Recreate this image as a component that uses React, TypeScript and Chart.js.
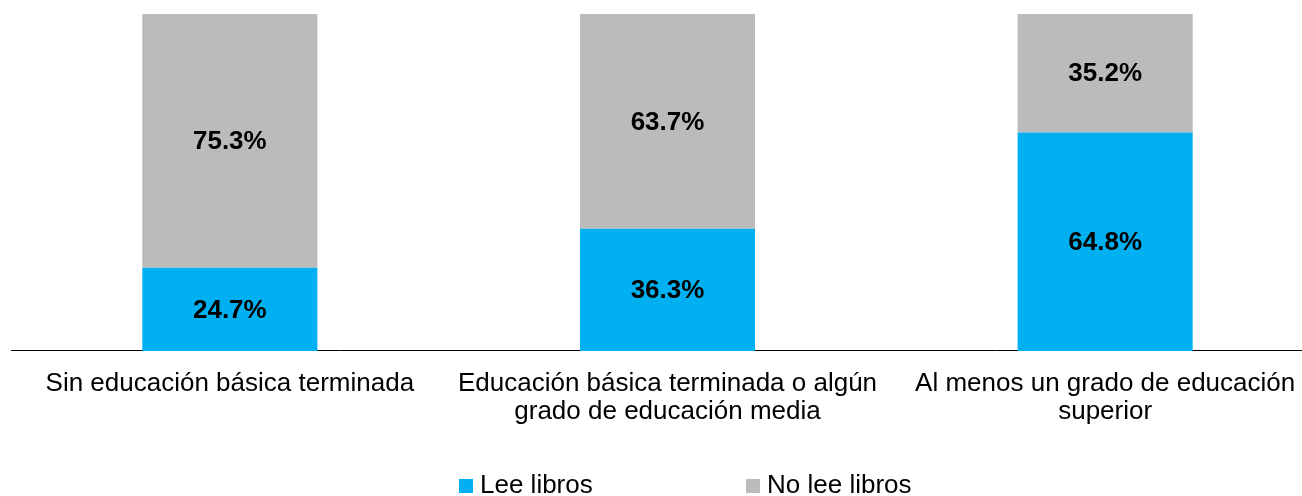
import React, { useEffect, useRef } from "react";
import { Chart, registerables } from "chart.js";

Chart.register(...registerables);

const categories: string[][] = [
  ["Sin educación básica terminada"],
  ["Educación básica terminada o algún", "grado de educación media"],
  ["Al menos un grado de educación", "superior"],
];
const leeLibros = [24.7, 36.3, 64.8];
const noLeeLibros = [75.3, 63.7, 35.2];
const seriesNames = ["Lee libros", "No lee libros"];
const seriesColors = ["#00B0F0", "#BBBBBB"];

const FONT = "'Liberation Sans', Arial, sans-serif";

const valueLabels = {
  id: "valueLabels",
  afterDatasetsDraw(chart: any) {
    const ctx = chart.ctx;
    ctx.save();
    ctx.font = `bold 26px ${FONT}`;
    ctx.fillStyle = "#000";
    ctx.textAlign = "center";
    ctx.textBaseline = "middle";
    chart.data.datasets.forEach((ds: any, di: number) => {
      const meta = chart.getDatasetMeta(di);
      meta.data.forEach((bar: any, i: number) => {
        const y = (bar.y + bar.base) / 2;
        ctx.fillText(ds.data[i].toFixed(1) + "%", bar.x, y + 1);
      });
    });
    ctx.restore();
  },
};

const customLegend = {
  id: "customLegend",
  afterDraw(chart: any) {
    const ctx = chart.ctx;
    ctx.save();
    ctx.font = `26px ${FONT}`;
    ctx.textBaseline = "alphabetic";
    ctx.textAlign = "left";
    const startX = 459;
    const step = 287;
    const boxTop = 479;
    const box = 14;
    chart.data.datasets.forEach((ds: any, i: number) => {
      const x = startX + i * step;
      ctx.fillStyle = ds.backgroundColor;
      ctx.fillRect(x, boxTop, box, box);
      ctx.fillStyle = "#000";
      ctx.fillText(ds.label, x + 21, 493);
    });
    ctx.restore();
  },
};

export default function App() {
  const ref = useRef<HTMLCanvasElement>(null);
  useEffect(() => {
    if (!ref.current) return;
    const chart = new Chart(ref.current, {
      type: "bar",
      data: {
        labels: categories,
        datasets: [
          { label: seriesNames[0], data: leeLibros, backgroundColor: seriesColors[0] },
          { label: seriesNames[1], data: noLeeLibros, backgroundColor: seriesColors[1] },
        ],
      },
      options: {
        responsive: false,
        animation: false,
        layout: { padding: { left: 11, right: 0, top: 14, bottom: 51 } },
        plugins: {
          legend: { display: false },
          tooltip: { enabled: false },
        },
        datasets: { bar: { categoryPercentage: 1, barPercentage: 0.4 } },
        scales: {
          x: {
            stacked: true,
            grid: { display: false, drawTicks: false },
            border: { display: true, color: "#000", width: 1 },
            ticks: {
              color: "#000",
              font: { family: FONT, size: 26, lineHeight: 1.077 },
              padding: 19,
              maxRotation: 0,
              autoSkip: false,
            },
          },
          y: {
            stacked: true,
            display: false,
            min: 0,
            max: 100,
          },
        },
      },
      plugins: [valueLabels, customLegend],
    });
    return () => chart.destroy();
  }, []);
  return (
    <div style={{ position: "fixed", left: 0, top: 0, width: 1302, height: 496, overflow: "hidden", background: "#fff" }}>
      <canvas ref={ref} width={1324} height={496} style={{ width: 1324, height: 496, display: "block" }} />
    </div>
  );
}
